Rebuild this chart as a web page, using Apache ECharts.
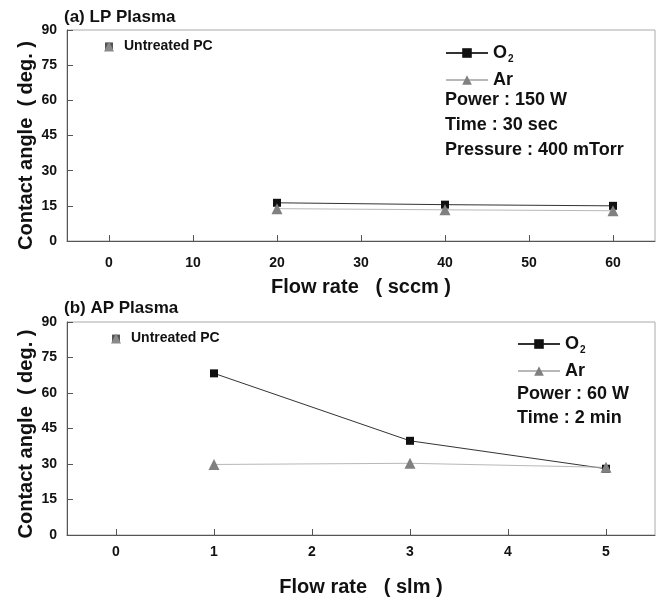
<!DOCTYPE html>
<html>
<head>
<meta charset="utf-8">
<script src="https://cdn.jsdelivr.net/npm/echarts@6/dist/echarts.min.js"></script>
<style>
html, body { margin: 0; padding: 0; background: #fff; }
#main { width: 660px; height: 601px; }
</style>
</head>
<body>
<div id="main"></div>
<script>
// (a) LP plasma, flow rate in sccm
var lpFlow = [20, 40, 60]
var lpO2 = [16.3, 15.5, 15.0]
var lpAr = [13.8, 13.3, 12.9]
// (b) AP plasma, flow rate in slm
var apFlow = [1, 3, 5]
var apO2 = [68.3, 39.8, 28.0]
var apAr = [29.8, 30.3, 28.6]
// untreated PC reference, drawn at flow 0
var untreated = 83
var lpTicks = [0, 10, 20, 30, 40, 50, 60]
var apTicks = [0, 1, 2, 3, 4, 5]

var font = "'Liberation Sans', Arial, sans-serif"
var dark = '#555'

function pairs(xs, ys) {
  var out = []
  for (var i = 0; i < xs.length; i++) out.push([xs[i], ys[i]])
  return out
}

function xAxisOf(idx, min, max, ticks, name, gap, margin) {
  return {
    type: 'value', gridIndex: idx, min: min, max: max,
    name: name, nameLocation: 'middle', nameGap: gap,
    nameTextStyle: { fontFamily: font, fontWeight: 'bold', fontSize: 20, color: '#111' },
    axisLine: { show: true, onZero: false, lineStyle: { color: dark } },
    axisTick: { show: true, inside: true, length: 6, customValues: ticks, lineStyle: { color: dark } },
    axisLabel: { customValues: ticks, margin: margin, fontFamily: font, fontWeight: 'bold', fontSize: 14, color: '#111' },
    splitLine: { show: false }
  }
}

function yAxisOf(idx, shift) {
  return {
    type: 'value', gridIndex: idx, min: 0, max: 90, interval: 15,
    name: 'Contact angle  ( deg. )', nameLocation: 'middle', nameGap: 31, nameMoveOverlap: false,
    nameTextStyle: { fontFamily: font, fontWeight: 'bold', fontSize: 20, color: '#111', padding: [0, shift, 0, 0] },
    axisLine: { show: true, onZero: false, lineStyle: { color: dark } },
    axisTick: { show: true, inside: true, length: 6, lineStyle: { color: dark } },
    axisLabel: { margin: 10, fontFamily: font, fontWeight: 'bold', fontSize: 14, color: '#111' },
    splitLine: { show: false }
  }
}

function lineSeries(name, idx, data) {
  var isO2 = name == 'O2'
  return {
    name: name, type: 'line', xAxisIndex: idx, yAxisIndex: idx,
    data: data,
    symbol: isO2 ? 'rect' : 'triangle',
    symbolSize: isO2 ? 8 : 11,
    itemStyle: { color: isO2 ? '#111' : '#808080' },
    lineStyle: { color: isO2 ? '#333' : '#b8b8b8', width: 1 },
    animation: false
  }
}

function untreatedSeries(idx) {
  return [{
    type: 'scatter', xAxisIndex: idx, yAxisIndex: idx,
    data: [[0, untreated]], symbol: 'rect', symbolSize: 8,
    itemStyle: { color: '#555', opacity: 1 }, animation: false
  }, {
    type: 'scatter', xAxisIndex: idx, yAxisIndex: idx,
    data: [[0, untreated]], symbol: 'triangle', symbolSize: 10,
    itemStyle: { color: '#8a8a8a', opacity: 1 }, animation: false,
    label: { show: true, position: 'right', distance: 10, formatter: 'Untreated PC',
      fontFamily: font, fontWeight: 'bold', fontSize: 14, color: '#111' }
  }]
}

function legendOf(left, top) {
  return {
    data: ['O2', 'Ar'], orient: 'vertical', left: left, top: top, padding: 0,
    itemWidth: 42, itemHeight: 12, itemGap: 7,
    formatter: function(name) {
      return name == 'O2' ? '{a|O}{s|2}' : '{a|Ar}'
    },
    textStyle: {
      rich: {
        a: { fontFamily: font, fontWeight: 'bold', fontSize: 18, color: '#111' },
        s: { fontFamily: font, fontWeight: 'bold', fontSize: 10, color: '#111', padding: [12, 0, 0, 1] }
      }
    }
  }
}

var infoStyle = { fontFamily: font, fontWeight: 'bold', fontSize: 18, color: '#111', lineHeight: 25 }
var titleStyle = { fontFamily: font, fontWeight: 'bold', fontSize: 17, color: '#111' }

var myChart = echarts.init(document.getElementById('main'))
var option = {
  backgroundColor: '#fff',
  animation: false,
  title: [
    { text: '(a) LP Plasma', left: 64, top: 9, textStyle: titleStyle, padding: 0 },
    { text: '(b) AP Plasma', left: 64, top: 300, textStyle: titleStyle, padding: 0 },
    { text: 'Power : 150 W\nTime : 30 sec\nPressure : 400 mTorr', left: 445, top: 88, textStyle: infoStyle, padding: 0 },
    { text: 'Power : 60 W\nTime : 2 min', left: 517, top: 382, textStyle: Object.assign({}, infoStyle, { lineHeight: 24 }), padding: 0 }
  ],
  legend: [legendOf(445, 44), legendOf(517, 335)],
  grid: [
    { left: 67, top: 30, width: 588, height: 211, show: true, borderColor: '#aaa', borderWidth: 1 },
    { left: 67, top: 322, width: 588, height: 213, show: true, borderColor: '#aaa', borderWidth: 1 }
  ],
  xAxis: [
    xAxisOf(0, -5, 65, lpTicks, 'Flow rate   ( sccm )', 36, 15),
    xAxisOf(1, -0.5, 5.5, apTicks, 'Flow rate   ( slm )', 42, 10)
  ],
  yAxis: [yAxisOf(0, 20), yAxisOf(1, 11)],
  series: [
    lineSeries('O2', 0, pairs(lpFlow, lpO2)),
    lineSeries('Ar', 0, pairs(lpFlow, lpAr)),
    lineSeries('O2', 1, pairs(apFlow, apO2)),
    lineSeries('Ar', 1, pairs(apFlow, apAr))
  ].concat(untreatedSeries(0), untreatedSeries(1))
}
myChart.setOption(option)
</script>
</body>
</html>
